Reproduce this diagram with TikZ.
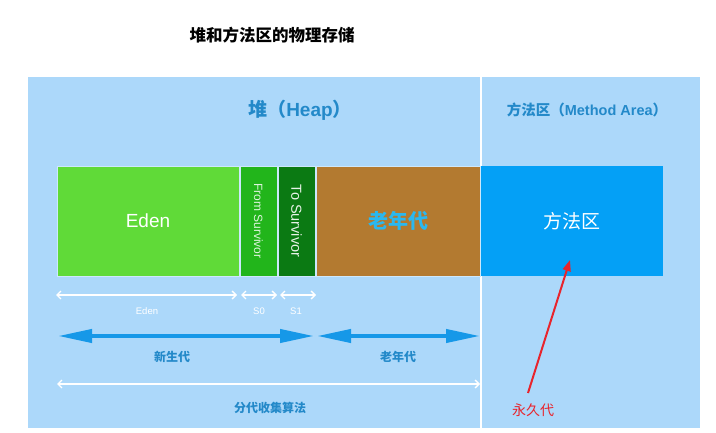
\documentclass[tikz,border=0pt]{standalone}
\usepackage{fontspec}
\setmainfont{Noto Sans CJK SC}
\newfontfamily\lat{Liberation Sans}
\usetikzlibrary{arrows.meta}
\definecolor{panel}{RGB}{172,216,250}
\definecolor{edencol}{RGB}{96,218,56}
\definecolor{fromcol}{RGB}{34,181,27}
\definecolor{tocol}{RGB}{11,122,19}
\definecolor{oldcol}{RGB}{179,122,48}
\definecolor{methcol}{RGB}{4,160,246}
\definecolor{lbl}{RGB}{35,137,201}
\definecolor{oldtxt}{RGB}{42,184,240}
\definecolor{bluearr}{RGB}{22,152,232}
\definecolor{redarr}{RGB}{232,36,44}
\tikzset{
  region/.style={draw=panel!60!white, line width=0.6pt, minimum height=110pt, inner sep=0pt, text=white},
  whitearr/.style={draw=white, line width=1.3pt, {Straight Barb[length=4pt,width=8pt]}-{Straight Barb[length=4pt,width=8pt]}},
  bigarr/.style={draw=bluearr, line width=4pt, {Triangle[length=34pt,width=13pt]}-{Triangle[length=34pt,width=13pt]}},
  smalllbl/.style={text=white, font=\lat\fontsize{9.5}{10}\selectfont},
  midlbl/.style={text=lbl, font=\fontsize{12}{14}\selectfont\bfseries},
}
\begin{document}
\begin{tikzpicture}[x=1pt,y=-1pt]
\useasboundingbox (0,0) rectangle (716,433);
\fill[white] (0,0) rectangle (716,433);
\node[font=\fontsize{16.5}{18}\selectfont\bfseries] (title) at (272,35) {堆和方法区的物理存储};
\fill[panel] (28,77) rectangle (700,428);
\draw[white, line width=1.5pt] (481,77) -- (481,428);
\node[text=lbl, font=\fontsize{19}{21}\selectfont\bfseries] (heap) at (300,110) {堆（{\lat Heap}）};
\node[text=lbl, font=\fontsize{14.5}{16}\selectfont\bfseries] (mlabel) at (587,110) {方法区（{\lat Method Area}）};
\node[region, fill=edencol, minimum width=182pt, font=\lat\fontsize{19}{21}\selectfont] (eden) at (148,221) {Eden};
\node[region, fill=fromcol, minimum width=37pt] (from) at (258.5,221) {};
\node[rotate=-90, text=white!85!fromcol, font=\lat\fontsize{12}{13}\selectfont] (fromt) at (from.center) {From Survivor};
\node[region, fill=tocol, minimum width=37pt] (to) at (296.5,221) {};
\node[rotate=-90, text=white!90!tocol, font=\lat\fontsize{14.5}{16}\selectfont] (tot) at (to.center) {To Survivor};
\node[region, fill=oldcol, minimum width=164pt, text=oldtxt, font=\fontsize{20}{22}\selectfont\bfseries] (old) at (398,221) {老年代};
\node[region, draw=none, fill=methcol, minimum width=182pt, font=\fontsize{19}{21}\selectfont] (meth) at (572,221) {方法区};
% white dimension arrows
\coordinate (e1) at (56,295); \coordinate (e2) at (237,295);
\coordinate (s01) at (241,295); \coordinate (s02) at (277,295);
\coordinate (s11) at (280,295); \coordinate (s12) at (316,295);
\draw[whitearr] (e1) -- (e2);
\draw[whitearr] (s01) -- (s02);
\draw[whitearr] (s11) -- (s12);
\node[smalllbl] (el) at (147,311) {Eden};
\node[smalllbl] (s0l) at (259,311) {S0};
\node[smalllbl] (s1l) at (296,311) {S1};
% blue arrows
\coordinate (y1) at (58,336); \coordinate (y2) at (314,336);
\coordinate (o1) at (317,336); \coordinate (o2) at (480,336);
\draw[bigarr] (y1) -- (y2);
\draw[bigarr] (o1) -- (o2);
\node[midlbl] (young) at (172,357) {新生代};
\node[midlbl] (oldl) at (398,357) {老年代};
% long white arrow
\coordinate (g1) at (57,384); \coordinate (g2) at (480,384);
\draw[whitearr] (g1) -- (g2);
\node[midlbl] (gen) at (270,408) {分代收集算法};
% red arrow
\node[text=redarr, font=\fontsize{14}{16}\selectfont] (perm) at (533,410) {永久代};
\coordinate (r1) at (528,393);
\coordinate (r2) at (570,260);
\draw[redarr, line width=2pt, -{Triangle[length=11pt,width=8pt]}] (r1) -- (r2);
\end{tikzpicture}
\end{document}
